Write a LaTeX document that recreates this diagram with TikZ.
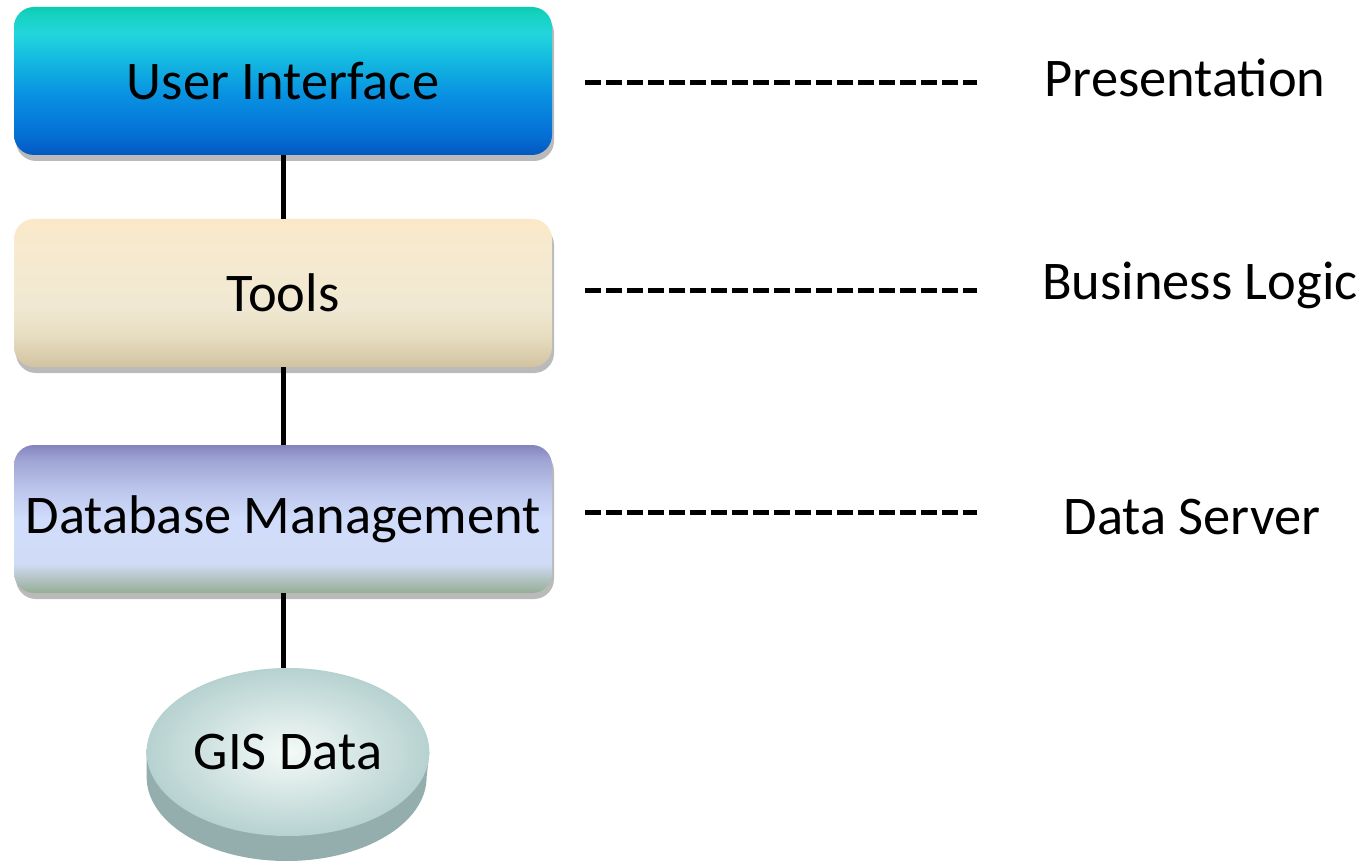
\documentclass[tikz,border=0pt]{standalone}
\usepackage{fontspec}
\setmainfont{Carlito}
\usetikzlibrary{shapes,shadows,calc,positioning,backgrounds}

\definecolor{rimgray}{HTML}{94AEAE}
\definecolor{faceout}{HTML}{B6D2D0}
\definecolor{facein}{HTML}{F4FAF8}
\definecolor{uiA}{RGB}{4,88,192}
\definecolor{uiB}{RGB}{5,112,214}
\definecolor{uiC}{RGB}{8,144,226}
\definecolor{uiD}{RGB}{21,188,224}
\definecolor{uiE}{RGB}{34,214,220}
\definecolor{uiF}{RGB}{24,210,196}
\definecolor{uiG}{RGB}{12,204,176}
\definecolor{toA}{RGB}{210,195,160}
\definecolor{toB}{RGB}{230,220,192}
\definecolor{toC}{RGB}{240,232,210}
\definecolor{toD}{RGB}{246,234,208}
\definecolor{toE}{RGB}{251,232,200}
\definecolor{dbA}{RGB}{150,174,150}
\definecolor{dbB}{RGB}{180,196,196}
\definecolor{dbC}{RGB}{208,220,246}
\definecolor{dbD}{RGB}{208,220,250}
\definecolor{dbE}{RGB}{188,198,236}
\definecolor{dbF}{RGB}{159,164,212}
\definecolor{dbG}{RGB}{132,132,190}

% layer fills
\pgfdeclareverticalshading{uishade}{100bp}{color(0bp)=(uiA); color(25bp)=(uiA); color(32bp)=(uiB);
  color(45bp)=(uiC); color(58bp)=(uiD); color(66bp)=(uiE); color(72bp)=(uiF); color(75bp)=(uiG); color(100bp)=(uiG)}
\pgfdeclareverticalshading{toolshade}{100bp}{color(0bp)=(toA); color(25bp)=(toA); color(35bp)=(toB);
  color(45bp)=(toC); color(65bp)=(toD); color(75bp)=(toE); color(100bp)=(toE)}
\pgfdeclareverticalshading{dbshade}{100bp}{color(0bp)=(dbA); color(25bp)=(dbA); color(30bp)=(dbB);
  color(35bp)=(dbC); color(50bp)=(dbD); color(60bp)=(dbE); color(70bp)=(dbF); color(75bp)=(dbG); color(100bp)=(dbG)}

\begin{document}
\begin{tikzpicture}
    \tikzstyle{every node}=[font=\fontsize{31}{36}\selectfont, outer sep=0pt]
    \tikzstyle{layer}=[rectangle, rounded corners=0.4cm, minimum width=10.76cm, minimum height=2.96cm,
                       drop shadow={shadow xshift=0.04cm, shadow yshift=-0.12cm, fill=black!60, opacity=0.45}]
    \tikzstyle{link}=[line width=0.1cm]
    \tikzstyle{tierline}=[line width=0.1cm, dash pattern=on 0.32cm off 0.1cm]
    \useasboundingbox (0,0) rectangle (27.32,-17.32);

    \node[layer, shading=uishade] (ui) at (5.66,-1.62) {User Interface};
    \node[layer, shading=toolshade] (tools) at (5.66,-5.86) {Tools};
    \node[layer, shading=dbshade] (db) at (5.66,-10.38) {Database Management};
    \node[ellipse, minimum width=5.6cm, minimum height=3.36cm, inner color=facein, outer color=faceout]
        (gis) at (5.76,-15.04) {GIS Data};
    \begin{scope}[on background layer]
        \fill[rimgray] (gis.west) -- ++(0,-0.5) arc[start angle=180, end angle=360, x radius=2.8cm, y radius=1.68cm]
            -- (gis.east) -- cycle;
    \end{scope}

    \draw[link] (ui.south) -- (tools.north);
    \draw[link] (tools.south) -- (db.north);
    \draw[link] (db.south) -- (db.south |- gis.north);

    % tiers
    \node (pres) at (23.7,-1.56) {Presentation};
    \node (logic) at (24.0,-5.7) {Business Logic};
    \node (server) at (23.84,-10.34) {Data Server};
    \coordinate (pres a) at (11.7,-1.66);
    \coordinate (pres b) at (19.54,-1.66);
    \coordinate (logic a) at (11.7,-5.8);
    \coordinate (logic b) at (19.54,-5.8);
    \coordinate (server a) at (11.7,-10.24);
    \coordinate (server b) at (19.54,-10.24);
    \draw[tierline] (pres a) -- (pres b);
    \draw[tierline] (logic a) -- (logic b);
    \draw[tierline] (server a) -- (server b);
\end{tikzpicture}
\end{document}
